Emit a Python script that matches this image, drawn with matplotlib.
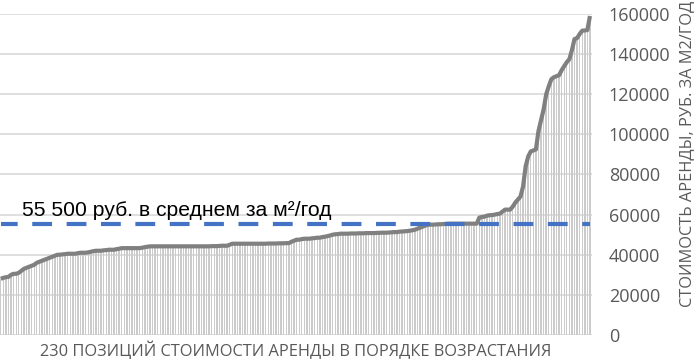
import matplotlib
matplotlib.use("Agg")
import matplotlib.pyplot as plt
import numpy as np

# 230 rent values, sorted ascending (rub per m2 per year)
values = [
    28000, 28500, 28800, 29000, 30000, 30500, 30500, 31000, 32000, 33000,
    33500, 34000, 34500, 35000, 36000, 36500, 37000, 37500, 38000, 38500,
    39000, 39500, 40000, 40000, 40200, 40300, 40500, 40500, 40500, 40500,
    40800, 41000, 41000, 41000, 41200, 41500, 41800, 42000, 42000, 42000,
    42200, 42300, 42500, 42500, 42500, 42800, 43000, 43300, 43300, 43300,
    43300, 43300, 43300, 43300, 43300, 43500, 43800, 44000, 44200, 44200,
    44200, 44200, 44200, 44200, 44200, 44200, 44200, 44200, 44200, 44200,
    44200, 44200, 44200, 44200, 44200, 44200, 44200, 44200, 44200, 44200,
    44200, 44200, 44300, 44300, 44300, 44400, 44500, 44500, 44500, 45000,
    45500, 45500, 45500, 45500, 45500, 45500, 45500, 45500, 45500, 45500,
    45500, 45500, 45500, 45500, 45600, 45600, 45600, 45600, 45700, 45700,
    45700, 45800, 45800, 46500, 47000, 47500, 47500, 47800, 48000, 48000,
    48000, 48200, 48300, 48500, 48500, 48800, 49000, 49300, 49600, 50000,
    50200, 50300, 50500, 50500, 50500, 50500, 50600, 50600, 50600, 50700,
    50700, 50700, 50800, 50800, 50800, 50800, 50900, 50900, 51000, 51000,
    51000, 51100, 51200, 51300, 51300, 51500, 51600, 51700, 51800, 52000,
    52200, 52500, 53000, 53500, 54000, 54500, 55000, 55000, 55000, 55100,
    55200, 55200, 55300, 55400, 55500, 55500, 55500, 55500, 55500, 55500,
    55500, 55500, 55500, 55500, 55500, 55500, 58500, 58800, 59000, 59500,
    59700, 59800, 60000, 60300, 60500, 61500, 62500, 62500, 62500, 64000,
    66000, 67500, 69000, 74000, 84000, 89000, 91500, 92000, 92500, 101700,
    107000, 112500, 120000, 124000, 127500, 128500, 129000, 129500, 132000, 134000,
    136000, 137500, 142000, 147500, 148000, 150000, 151700, 151800, 152000, 159000,
]
average = 55500
y_ticks = [0, 20000, 40000, 60000, 80000, 100000, 120000, 140000, 160000]
annotation = "55 500 руб. в среднем за м²/год"
x_label = "230 ПОЗИЦИЙ СТОИМОСТИ АРЕНДЫ В ПОРЯДКЕ ВОЗРАСТАНИЯ"
y_label = "СТОИМОСТЬ АРЕНДЫ, РУБ. ЗА М2/ГОД"

W, H = 695, 360
fig = plt.figure(figsize=(W / 100, H / 100), dpi=100)
ax = fig.add_axes([0, 1 - 335 / H, 592 / W, (335 - 14) / H])

idx = np.arange(len(values))
ax.bar(idx, values, width=0.55, color="#cbcbcb", zorder=1)
ax.plot(idx, values, color="#808080", lw=3, zorder=3, solid_capstyle="butt")
ax.plot(idx, [average] * len(values), color="#4472C4", lw=3, zorder=4,
        linestyle=(9, (4.75, 3.5)))

ax.set_xlim(-0.3, len(values) - 0.2)
ax.set_ylim(0, 160000)
ax.set_yticks(y_ticks)
ax.yaxis.tick_right()
ax.tick_params(axis="y", length=0, pad=12, labelsize=13, labelcolor="#595959")
for lab in ax.get_yticklabels():
    lab.set_fontfamily("Open Sans")
    lab.set_horizontalalignment("left")
ax.set_xticks([])
ax.grid(axis="y", color="#d9d9d9", lw=1.2, zorder=0)
ax.set_axisbelow(True)
for s in ax.spines.values():
    s.set_visible(False)

ax.text(22 / 592, (335 - 215.5) / (335 - 14), annotation, transform=ax.transAxes,
        fontsize=15.2, family="Liberation Sans", color="black",
        ha="left", va="baseline", zorder=5)

fig.text(296 / W, 1 - 351 / H, x_label, fontsize=11.75, family="Open Sans",
         color="#595959", ha="center", va="center")
fig.text(687 / W, 1 - 307 / H, y_label, fontsize=11.75, family="Open Sans",
         color="#595959", ha="center", va="bottom", rotation=90)

fig.savefig("out.png", dpi=100)
